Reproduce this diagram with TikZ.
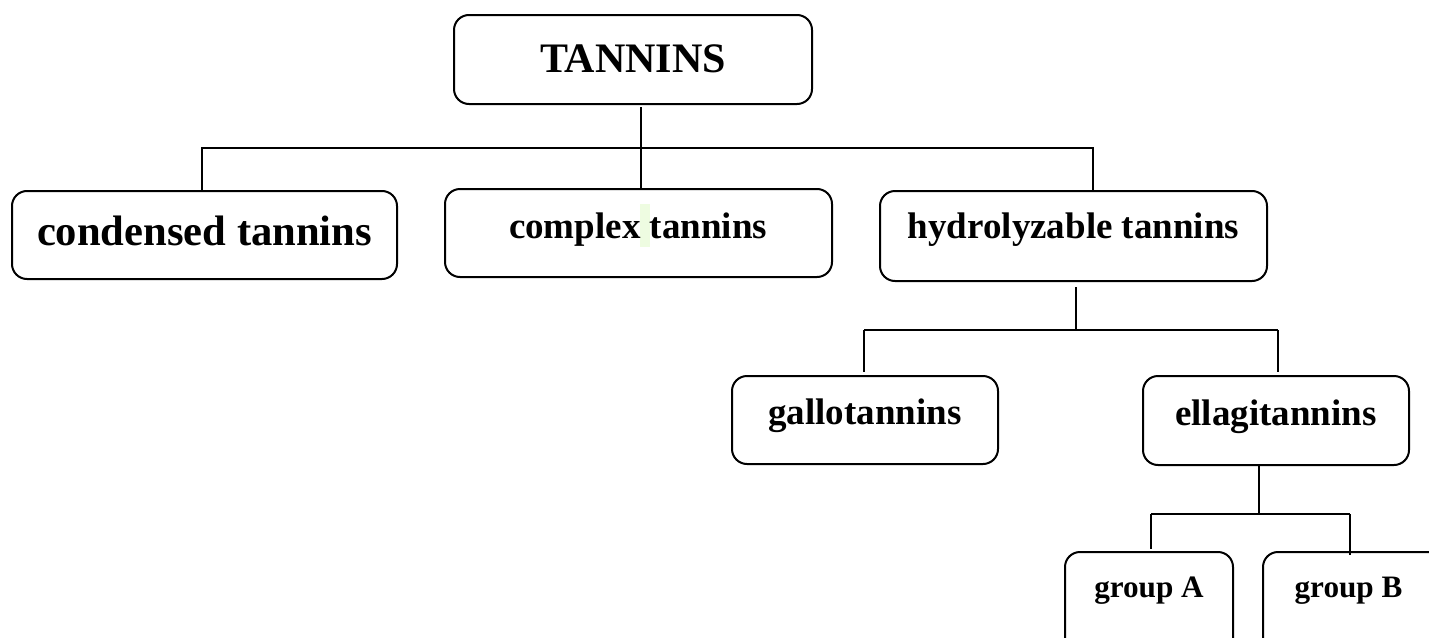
\documentclass[tikz,border=0pt]{standalone}
\usepackage{fontspec}
\setmainfont{Liberation Serif}
\usetikzlibrary{fit}
\definecolor{hl}{RGB}{238,252,225}
\tikzset{
  box/.style={draw=black, line width=1pt, rounded corners=7.5pt, inner sep=0pt, fill=none},
  lbl/.style={anchor=base, inner sep=0pt, font=\bfseries},
  conn/.style={draw=black, line width=1pt},
}
\begin{document}
\begin{tikzpicture}[x=0.5pt, y=-0.5pt]
\useasboundingbox (0,0) rectangle (1429,637);
\clip (0,0) rectangle (1429,637);
% boxes
\node[box, fit={(454,15)(812,104)}] (tannins) {};
\node[box, fit={(12,191)(397,279)}] (cond) {};
\node[box, fit={(445,189)(832,277)}] (complex) {};
\node[box, fit={(880,191)(1267,281)}] (hyd) {};
\node[box, fit={(732,376)(998,464)}] (gallo) {};
\node[box, fit={(1143,376)(1409,465)}] (ellagi) {};
\node[box, fit={(1065,552)(1233,700)}] (grpA) {};
\node[box, fit={(1263,552)(1445,700)}] (grpB) {};
% highlight
\fill[hl] (640,204) rectangle (650,247);
% labels
\node[lbl, font=\bfseries\fontsize{21}{25}\selectfont] (tT) at (633,72) {TANNINS};
\node[lbl, font=\bfseries\fontsize{21.3}{25}\selectfont] (tC) at (204.5,245) {condensed tannins};
\node[lbl, font=\bfseries\fontsize{18.5}{22}\selectfont] (tX) at (638,238) {complex tannins};
\node[lbl, font=\bfseries\fontsize{18.5}{22}\selectfont] (tH) at (1073.5,238) {hydrolyzable tannins};
\node[lbl, font=\bfseries\fontsize{18.5}{22}\selectfont] (tG) at (865,424) {gallotannins};
\node[lbl, font=\bfseries\fontsize{18.5}{22}\selectfont] (tE) at (1276,425) {ellagitannins};
\node[lbl, font=\bfseries\fontsize{15.6}{19}\selectfont] (tA) at (1149,597) {group A};
\node[lbl, font=\bfseries\fontsize{15.6}{19}\selectfont] (tB) at (1348.5,597) {group B};
% bus coordinates
\coordinate (b1) at (641,148);
\coordinate (b1L) at (202,148);
\coordinate (b1R) at (1093,148);
\coordinate (b2) at (1076,330);
\coordinate (b2L) at (864,330);
\coordinate (b2R) at (1278,330);
\coordinate (b3) at (1259,514);
\coordinate (b3L) at (1151,514);
\coordinate (b3R) at (1350,514);
% connectors
\draw[conn, shorten <=1pt] (tannins.south -| b1) -- (complex.north -| b1);
\draw[conn] (cond.north -| b1L) -- (b1L) -- (b1R) -- (hyd.north -| b1R);
\draw[conn, shorten <=2.5pt] (hyd.south -| b2) -- (b2);
\draw[conn, shorten >=1.5pt] (b2L) -- (gallo.north -| b2L);
\draw[conn, shorten >=1.5pt] (b2R) -- (ellagi.north -| b2R);
\draw[conn] (b2L) -- (b2R);
\draw[conn] (ellagi.south -| b3) -- (b3);
\draw[conn, shorten >=1pt] (b3L) -- (grpA.north -| b3L);
\draw[conn, shorten >=-2pt] (b3R) -- (grpB.north -| b3R);
\draw[conn] (b3L) -- (b3R);
\end{tikzpicture}
\end{document}
